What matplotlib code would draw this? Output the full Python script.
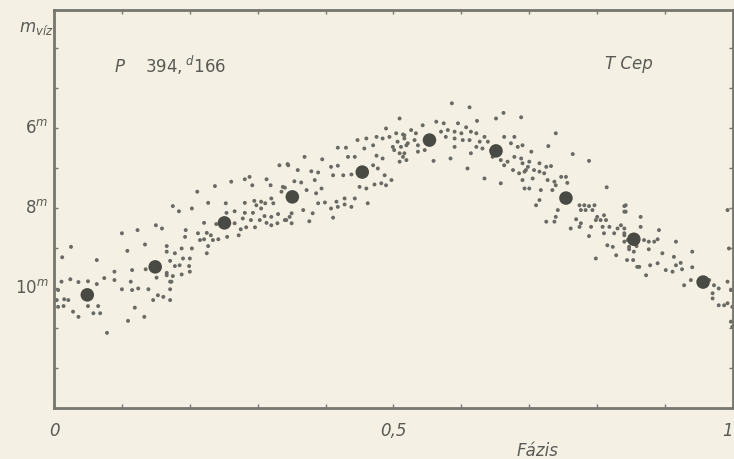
import matplotlib
matplotlib.use("Agg")
import matplotlib.pyplot as plt

# ---- data ----
# individual visual estimates (phase, magnitude)
obs_phase = [
    # phase 0 - 0.17
    0.025, 0.012, 0.063, 0.100, 0.123, 0.150, 0.159, 0.108, 0.134, 0.166,
    0.166, 0.089, 0.115, 0.135, 0.011, 0.024, 0.036, 0.050, 0.063, 0.074,
    0.089, 0.113, 0.100, 0.115, 0.124, 0.139, 0.151, 0.166, 0.173, 0.171,
    0.153, 0.161, 0.146, 0.171, 0.006, 0.004, 0.015, 0.021, 0.006, 0.014,
    0.028, 0.036, 0.050, 0.065, 0.058, 0.068, 0.119, 0.133, 0.109, 0.078,
    # phase 0.17 - 0.35
    0.211, 0.237, 0.261, 0.281, 0.288, 0.292, 0.313, 0.319, 0.332, 0.344,
    0.337, 0.335, 0.175, 0.184, 0.203, 0.227, 0.253, 0.254, 0.266, 0.281,
    0.295, 0.298, 0.305, 0.311, 0.320, 0.323, 0.281, 0.293, 0.305, 0.310,
    0.320, 0.330, 0.340, 0.347, 0.278, 0.290, 0.303, 0.313, 0.320, 0.329,
    0.221, 0.239, 0.266, 0.275, 0.283, 0.296, 0.255, 0.272, 0.194, 0.193,
    0.212, 0.225, 0.231, 0.215, 0.221, 0.234, 0.242, 0.227, 0.225, 0.188,
    0.203, 0.178, 0.190, 0.200, 0.171, 0.178, 0.185, 0.199, 0.166, 0.175,
    0.188, 0.200, 0.171,
    # phase 0.34 - 0.52
    0.509, 0.489, 0.475, 0.460, 0.447, 0.484, 0.494, 0.504, 0.514, 0.516,
    0.506, 0.499, 0.511, 0.519, 0.501, 0.509, 0.514, 0.519, 0.509, 0.418,
    0.430, 0.433, 0.443, 0.457, 0.470, 0.475, 0.484, 0.369, 0.395, 0.345,
    0.359, 0.379, 0.389, 0.408, 0.418, 0.411, 0.426, 0.438, 0.470, 0.477,
    0.487, 0.497, 0.482, 0.489, 0.472, 0.450, 0.460, 0.354, 0.364, 0.372,
    0.384, 0.386, 0.394, 0.340, 0.399, 0.389, 0.416, 0.428, 0.443, 0.428,
    0.438, 0.462, 0.408, 0.418, 0.350, 0.367, 0.381, 0.342, 0.350, 0.376,
    0.411,
    # phase 0.52 - 0.70
    0.586, 0.612, 0.662, 0.688, 0.651, 0.623, 0.563, 0.574, 0.595, 0.607,
    0.543, 0.526, 0.533, 0.516, 0.521, 0.531, 0.536, 0.570, 0.580, 0.590,
    0.600, 0.614, 0.622, 0.634, 0.577, 0.590, 0.602, 0.612, 0.627, 0.639,
    0.663, 0.678, 0.673, 0.683, 0.690, 0.622, 0.631, 0.644, 0.614, 0.646,
    0.658, 0.678, 0.688, 0.690, 0.698, 0.668, 0.663, 0.676, 0.685, 0.693,
    0.516, 0.536, 0.546, 0.559, 0.584, 0.590, 0.609, 0.634, 0.658, 0.690,
    0.693,
    # phase 0.70 - 0.86
    0.739, 0.728, 0.764, 0.788, 0.703, 0.700, 0.715, 0.725, 0.732, 0.695,
    0.707, 0.715, 0.722, 0.705, 0.727, 0.737, 0.747, 0.754, 0.756, 0.739,
    0.700, 0.717, 0.734, 0.814, 0.715, 0.710, 0.742, 0.774, 0.781, 0.788,
    0.796, 0.776, 0.783, 0.793, 0.739, 0.725, 0.737, 0.769, 0.776, 0.800,
    0.810, 0.798, 0.805, 0.813, 0.840, 0.840, 0.761, 0.774, 0.791, 0.808,
    0.818, 0.830, 0.835, 0.840, 0.788, 0.810, 0.825, 0.840, 0.815, 0.823,
    0.840, 0.847, 0.798, 0.828, 0.844, 0.854, 0.859,
    # phase 0.84 - 1.00
    0.842, 0.842, 0.864, 0.864, 0.891, 0.992, 0.840, 0.845, 0.847, 0.858,
    0.869, 0.876, 0.884, 0.889, 0.916, 0.876, 0.896, 0.940, 0.994, 0.853,
    0.862, 0.872, 0.878, 0.889, 0.901, 0.911, 0.913, 0.916, 0.923, 0.925,
    0.940, 0.928, 0.938, 0.965, 0.972, 0.979, 0.992, 0.997, 0.970, 0.970,
    0.979, 0.987, 0.992, 0.999, 0.997, 0.999,
]
obs_mag = [
    8.97, 9.23, 9.30, 8.63, 8.55, 8.43, 8.51, 9.07, 8.91, 8.95,
    9.09, 9.59, 9.55, 9.53, 9.84, 9.78, 9.85, 9.83, 9.90, 9.75,
    9.80, 9.84, 10.03, 10.05, 10.01, 10.03, 9.74, 9.68, 9.84, 10.03,
    10.18, 10.22, 10.30, 10.30, 10.05, 10.30, 10.28, 10.30, 10.47, 10.45,
    10.59, 10.72, 10.45, 10.45, 10.63, 10.63, 10.49, 10.72, 10.82, 11.12,
    7.59, 7.45, 7.34, 7.28, 7.22, 7.43, 7.28, 7.43, 6.93, 6.90,
    7.47, 7.59, 7.95, 8.08, 8.01, 7.87, 7.88, 8.12, 8.08, 7.87,
    7.82, 7.93, 7.84, 7.88, 7.76, 7.88, 8.12, 8.12, 8.01, 8.20,
    8.22, 8.15, 8.30, 8.22, 8.26, 8.30, 8.30, 8.37, 8.43, 8.38,
    8.37, 8.40, 8.38, 8.53, 8.48, 8.48, 8.72, 8.68, 8.55, 8.72,
    8.63, 8.62, 8.68, 8.80, 8.78, 8.80, 8.78, 8.95, 9.13, 9.01,
    9.01, 9.13, 9.26, 9.26, 9.32, 9.45, 9.43, 9.45, 9.62, 9.70,
    9.66, 9.59, 9.84,
    5.76, 6.01, 6.22, 6.26, 6.30, 6.26, 6.22, 6.13, 6.16, 6.26,
    6.34, 6.47, 6.47, 6.43, 6.55, 6.63, 6.72, 6.80, 6.84, 6.49,
    6.49, 6.72, 6.72, 6.51, 6.43, 6.69, 6.76, 6.72, 6.78, 6.93,
    7.05, 7.08, 7.11, 6.97, 6.94, 7.18, 7.18, 7.16, 6.93, 7.01,
    7.18, 7.30, 7.38, 7.43, 7.41, 7.47, 7.51, 7.33, 7.36, 7.55,
    7.30, 7.63, 7.51, 7.49, 7.86, 7.88, 7.84, 7.76, 7.76, 7.91,
    7.97, 7.88, 8.01, 7.97, 8.13, 8.05, 8.13, 8.30, 8.38, 8.33,
    8.24,
    5.38, 5.48, 5.62, 5.73, 5.76, 5.82, 5.84, 5.88, 5.88, 5.98,
    5.93, 6.05, 6.13, 6.18, 6.38, 6.30, 6.43, 6.09, 6.05, 6.09,
    6.13, 6.09, 6.13, 6.22, 6.22, 6.26, 6.30, 6.30, 6.34, 6.34,
    6.22, 6.22, 6.38, 6.47, 6.43, 6.47, 6.51, 6.55, 6.63, 6.72,
    6.80, 6.72, 6.76, 6.88, 6.97, 6.84, 6.93, 7.05, 7.13, 7.09,
    6.63, 6.59, 6.55, 6.82, 6.76, 6.47, 7.01, 7.26, 7.38, 7.30,
    7.51,
    6.13, 6.45, 6.65, 6.82, 6.59, 6.84, 6.88, 6.97, 6.95, 7.05,
    7.05, 7.09, 7.13, 7.26, 7.30, 7.34, 7.22, 7.22, 7.37, 7.43,
    7.51, 7.55, 7.55, 7.48, 7.80, 7.93, 8.05, 7.93, 7.93, 7.95,
    7.93, 8.05, 8.05, 8.05, 8.22, 8.34, 8.34, 8.28, 8.38, 8.22,
    8.18, 8.30, 8.30, 8.30, 7.95, 8.09, 8.51, 8.47, 8.47, 8.47,
    8.47, 8.51, 8.43, 8.51, 8.70, 8.63, 8.63, 8.68, 8.93, 8.97,
    8.84, 8.97, 9.26, 9.18, 9.30, 9.09, 9.47,
    7.93, 8.09, 8.22, 8.47, 8.55, 8.05, 8.63, 8.80, 9.03, 8.95,
    8.80, 8.84, 8.84, 8.78, 8.84, 9.03, 9.13, 9.09, 9.01, 9.30,
    9.47, 9.68, 9.43, 9.38, 9.55, 9.59, 9.22, 9.43, 9.37, 9.53,
    9.48, 9.93, 9.80, 9.80, 9.93, 10.01, 9.84, 10.05, 10.13, 10.26,
    10.43, 10.43, 10.38, 10.47, 10.84, 10.97,
]
# normal points (large dots)
mean_phase = [0.049, 0.149, 0.251, 0.351, 0.454, 0.553, 0.651, 0.754, 0.854, 0.956]
mean_mag = [10.17, 9.47, 8.37, 7.72, 7.10, 6.30, 6.57, 7.75, 8.78, 9.85]

x_ticks = [0, 0.5, 1]
x_labels = ["0", "0,5", "1"]
y_ticks = [6, 8, 10]
y_labels = [r"$6^{m}$", r"$8^{m}$", r"$10^{m}$"]

BG = "#f4f1e4"
INK = "#5a5a55"
FRAME = "#76766f"

plt.rcParams["mathtext.default"] = "it"
plt.rcParams["font.family"] = ["DejaVu Sans"]

fig = plt.figure(figsize=(7.34, 4.59), dpi=100, facecolor=BG)
ax = fig.add_axes([0.0736, 0.111, 0.9250, 0.867], facecolor=BG)

ax.scatter(obs_phase, obs_mag, s=8, color="#6a6a64", edgecolors="none", zorder=2)
ax.scatter(mean_phase, mean_mag, s=95, color="#4a4a45", edgecolors="none", zorder=3)

ax.set_xlim(0, 1)
ax.set_ylim(13.0, 3.05)

ax.set_xticks([i / 10 for i in range(11)])
ax.set_yticks(list(range(4, 13)))
ax.tick_params(which="both", direction="in", top=True, right=True,
               length=3, width=1, color=FRAME, labelbottom=False, labelleft=False)

for s in ax.spines.values():
    s.set_color(FRAME)
    s.set_linewidth(2)

txt = dict(color=INK, style="italic", fontsize=12)
for xv, lab in zip(x_ticks, x_labels):
    ha = "right" if xv == 1 else "center"
    ax.text(xv, -0.035, lab, transform=ax.get_xaxis_transform(),
            ha=ha, va="top", **txt)
for yv, lab in zip(y_ticks, y_labels):
    ax.text(-0.008, yv, lab, transform=ax.get_yaxis_transform(),
            ha="right", va="center", **txt)

ax.text(0.712, -0.085, "Fázis", transform=ax.transAxes, ha="center", va="top", **txt)
fig.text(0.026, 0.94, r"$m_{víz}$", color=INK, fontsize=12, ha="left", va="center")
ax.text(0.088, 0.86, r"P    $394,^{d}166$", transform=ax.transAxes,
        ha="left", va="center", **txt)
ax.text(0.812, 0.865, "T Cep", transform=ax.transAxes, ha="left", va="center", **txt)

fig.savefig("out.png", dpi=100, facecolor=BG)
